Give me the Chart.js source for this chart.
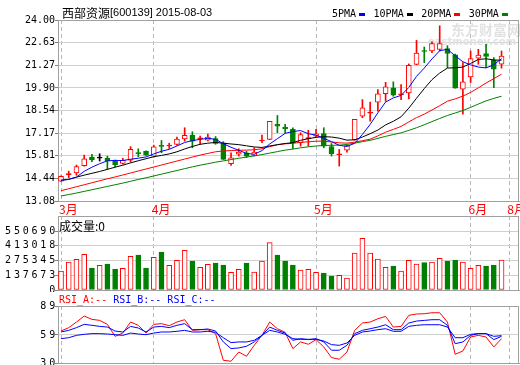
<!DOCTYPE html>
<html><head><meta charset="utf-8">
<script src="https://cdn.jsdelivr.net/npm/chart.js@4.4.1/dist/chart.umd.min.js"></script>
<style>
html,body{margin:0;padding:0;background:#fff;}
#wrap{position:relative;width:520px;height:365px;overflow:hidden;background:#fff;}
canvas{position:absolute;left:0;}
</style></head><body>
<div id="wrap">
<canvas id="cMain" width="520" height="216" style="top:0px"></canvas>
<canvas id="cVol" width="520" height="76" style="top:216px"></canvas>
<canvas id="cRsi" width="520" height="75" style="top:290px"></canvas>
</div>
<script>
// ---------- data ----------
const titleName = '西部资源';
const titleCode = '[600139] 2015-08-03';
const maNames = ['5PMA','10PMA','20PMA','30PMA'];
const volumeTitle = '成交量:0';
const rsiNames = ['RSI_A:--','RSI_B:--','RSI_C:--'];
const monthTickIndex = [0, 12, 33, 53, 58];
const monthLabels = ['3月','4月','5月','6月','8月'];
const priceTicks = [13.08, 14.44, 15.81, 17.17, 18.54, 19.90, 21.27, 22.63, 24.00];
const volumeTicks = [0, 137673, 275345, 413018, 550690];
const rsiTicks = [30, 59, 89];

const opens  = [14.28,14.67,14.77,15.21,15.73,15.67,15.67,15.47,15.35,15.55,15.96,16.07,15.79,16.40,16.40,16.49,16.83,17.05,16.83,16.75,16.84,16.58,15.33,15.90,15.99,15.83,16.70,16.80,17.70,17.54,17.40,16.60,16.84,16.99,17.15,16.37,15.87,16.15,16.78,18.20,18.38,19.04,19.55,19.91,19.48,19.60,21.32,22.14,22.13,22.22,22.27,21.90,19.82,20.57,21.69,21.97,21.57,21.33];
const highs  = [14.60,14.88,15.25,15.85,15.89,15.93,15.79,15.55,15.65,16.36,16.23,16.10,16.45,16.73,16.57,16.93,17.50,17.26,16.99,17.11,16.97,16.66,15.99,16.23,16.08,16.29,17.05,17.88,18.24,17.70,17.50,17.20,17.35,17.40,17.50,16.55,16.19,16.45,18.00,19.20,19.05,19.80,20.24,20.27,20.10,21.35,22.77,22.37,22.69,23.65,22.45,21.95,21.43,22.13,22.23,22.53,21.73,22.13];
const lows   = [14.26,14.49,14.63,15.18,15.45,15.49,14.99,15.13,15.30,15.43,15.75,15.83,15.73,15.99,16.25,16.45,16.69,16.29,16.49,16.70,16.50,15.59,15.23,15.79,15.70,15.80,16.60,16.78,17.20,17.20,16.23,16.39,16.39,16.95,16.29,15.79,15.19,16.03,16.75,18.10,17.90,18.50,19.10,19.40,19.20,19.24,21.30,21.43,22.03,22.13,21.13,19.88,18.32,20.23,21.33,21.13,19.92,21.09];
const closes = [14.57,14.70,15.15,15.63,15.57,15.67,15.51,15.25,15.53,16.19,15.94,15.85,16.35,16.38,16.42,16.81,17.04,16.69,16.85,16.93,16.55,15.59,15.69,16.03,15.79,16.03,16.72,17.88,17.60,17.45,16.60,17.09,16.88,17.14,16.39,15.93,15.91,16.43,18.00,18.70,18.44,19.55,19.97,19.46,19.52,21.27,22.01,22.10,22.57,22.57,21.99,19.88,20.27,21.67,21.89,21.81,21.03,21.83];

const ma5  = [14.33,14.38,14.52,14.87,15.12,15.33,15.50,15.53,15.52,15.60,15.66,15.74,15.92,16.08,16.20,16.40,16.61,16.72,16.80,16.86,16.80,16.54,16.32,16.14,15.95,15.90,16.12,16.52,16.84,17.16,17.27,17.33,17.14,17.05,16.86,16.66,16.44,16.37,16.56,17.10,17.70,18.40,19.05,19.30,19.45,19.93,20.60,21.10,21.65,22.15,22.23,21.84,21.48,21.29,21.16,21.11,21.30,21.67];
const ma10 = [14.33,14.39,14.52,14.64,14.75,14.86,14.99,15.12,15.24,15.38,15.51,15.63,15.75,15.83,15.92,16.05,16.22,16.37,16.50,16.57,16.61,16.57,16.52,16.48,16.41,16.34,16.31,16.40,16.48,16.55,16.60,16.74,16.84,16.92,16.96,16.94,16.87,16.75,16.77,16.94,17.14,17.36,17.67,17.89,18.16,18.68,19.28,19.86,20.40,20.80,21.10,21.12,21.16,21.38,21.62,21.66,21.59,21.57];
const ma20 = [13.70,13.82,13.94,14.06,14.18,14.30,14.42,14.53,14.65,14.77,14.89,15.01,15.13,15.25,15.37,15.49,15.61,15.73,15.85,15.95,16.05,16.10,16.12,16.14,16.15,16.17,16.23,16.36,16.47,16.53,16.56,16.62,16.65,16.69,16.69,16.64,16.59,16.57,16.63,16.72,16.81,17.01,17.23,17.40,17.58,17.85,18.11,18.32,18.57,18.83,19.10,19.24,19.41,19.63,19.91,20.20,20.46,20.73];
const ma30 = [13.38,13.47,13.56,13.66,13.76,13.86,13.96,14.06,14.16,14.27,14.38,14.48,14.59,14.70,14.81,14.92,15.03,15.14,15.24,15.33,15.42,15.50,15.58,15.66,15.73,15.80,15.88,15.97,16.06,16.15,16.21,16.29,16.35,16.40,16.43,16.44,16.45,16.49,16.57,16.66,16.74,16.86,16.98,17.09,17.19,17.34,17.50,17.68,17.87,18.06,18.24,18.39,18.54,18.73,18.93,19.12,19.27,19.40];

const volumes = [177300,261300,286500,333200,205300,230500,242700,196000,202500,314500,326700,205300,305200,354700,230500,277200,370500,270700,211900,239900,252000,233300,165200,193200,252000,168000,270700,441500,326700,270700,233300,186700,193200,165200,158700,130700,137200,112000,345300,482500,345300,289300,211900,224000,177300,277200,242700,254800,261300,295900,270700,280000,261300,202500,230500,224000,233300,280000];

const rsiA = [63.1,66.6,72.4,78.6,75.2,74.1,70.0,57.6,61.0,72.4,69.0,61.0,70.0,70.7,68.6,72.4,74.8,63.8,64.5,64.5,60.4,32.8,31.8,41.4,37.0,48.3,58.6,72.4,65.5,61.7,44.9,51.8,49.4,54.2,46.6,35.6,33.9,41.4,63.8,71.4,72.4,75.8,78.2,67.2,67.9,79.3,80.7,81.0,82.0,82.0,72.4,39.0,42.5,56.9,58.6,56.9,46.6,55.2];
const rsiB = [62.1,63.8,66.6,70.0,69.0,67.9,67.2,63.1,62.1,67.9,66.2,62.1,67.2,67.9,66.6,69.0,70.7,64.5,64.5,65.2,63.1,51.8,44.9,45.6,47.3,51.8,58.6,67.2,63.8,61.0,53.5,55.2,54.2,55.2,51.8,43.2,43.2,48.3,60.4,63.8,65.5,67.2,69.6,64.5,64.5,71.4,73.4,74.1,74.8,74.8,69.0,50.0,51.8,58.6,60.4,60.4,54.2,57.6];
const rsiC = [55.2,56.2,58.6,59.7,60.4,60.4,60.0,59.3,58.6,61.0,60.0,59.3,61.0,62.1,62.1,62.8,63.8,62.1,62.1,62.8,61.7,56.2,51.1,51.8,51.8,53.5,58.6,63.8,62.1,59.7,55.2,54.5,54.5,54.5,52.8,49.0,48.3,50.7,58.6,62.1,63.1,64.5,65.5,62.8,62.8,67.9,69.0,69.6,69.6,69.6,67.2,56.2,56.2,59.7,60.4,60.4,57.6,58.3];

// ---------- style ----------
const RED = '#ff0000', GREEN = '#008000', BLUE = '#0000ff', BLACK = '#000000';
const maColors = [BLUE, BLACK, RED, GREEN];
const FRAME = '#a0a0a0', GRID = '#d0d0d0', DASH = '#b8b8b8', TICK = '#808080';
const MONO = "'DejaVu Sans Mono'";
const CJK = "'Noto Sans CJK SC'";
const X_MIN = -0.39, X_MAX = 59.26;

Chart.defaults.font.family = 'DejaVu Sans Mono';
Chart.defaults.animation = false;

const idx = closes.map((_, i) => i);
const candleColor = i => closes[i] > opens[i] ? RED : (closes[i] < opens[i] ? GREEN : BLACK);
const bodyFill = i => {
  const c = candleColor(i);
  if (Math.abs(closes[i] - opens[i]) < 0.09) return c;
  return c === RED ? '#ffffff' : c;
};
const volColor = i => closes[i] >= opens[i] ? RED : GREEN;

function xScale(showLabels, h) {
  return {
    type: 'linear', min: X_MIN, max: X_MAX, offset: false,
    afterBuildTicks: s => { s.ticks = monthTickIndex.map(v => ({ value: v })); },
    afterFit: s => { s.height = h; s.paddingLeft = 0; s.paddingRight = 0; },
    grid: { color: DASH, lineWidth: 1, drawTicks: false, offset: false },
    border: { display: true, color: FRAME, dash: [4, 3] },
    ticks: {
      display: showLabels, autoSkip: false, maxRotation: 0, minRotation: 0,
      color: RED, font: { family: CJK, size: 12 }, padding: 1,
      align: 'start', labelOffset: -2,
      callback: (v, i) => monthLabels[i]
    }
  };
}
function yScale(min, max, ticks, fmt, pad) {
  return {
    type: 'linear', position: 'left', min: min, max: max, beginAtZero: false,
    afterBuildTicks: s => { s.ticks = ticks.map(v => ({ value: v })); },
    afterFit: s => { s.width = 58; s.paddingTop = 0; s.paddingBottom = 0; },
    grid: { color: GRID, tickColor: TICK, tickLength: 3, drawTicks: true },
    border: { display: true, color: FRAME },
    ticks: { color: '#000', font: { family: 'DejaVu Sans Mono', size: 10 }, padding: pad, autoSkip: false, callback: fmt }
  };
}
const framePlugin = {
  id: 'frame',
  afterDraw(chart) {
    const { ctx, chartArea: a } = chart;
    ctx.save();
    ctx.strokeStyle = FRAME; ctx.lineWidth = 1;
    ctx.beginPath();
    const t = Math.round(a.top) + 0.5, r = Math.round(a.right) - 0.5;
    ctx.moveTo(a.left, t); ctx.lineTo(a.right, t);
    ctx.moveTo(r, a.top); ctx.lineTo(r, a.bottom);
    ctx.stroke();
    ctx.restore();
  }
};
// wide-spaced digits used by the volume and RSI axes
const wideDigits = {
  id: 'wideDigits',
  beforeDraw(chart) { chart.ctx.letterSpacing = '2.8px'; }
};
const baseOpts = {
  responsive: false, animation: false, devicePixelRatio: 1, events: [],
  plugins: { legend: { display: false }, tooltip: { enabled: false }, title: { display: false } }
};

// ---------- main price chart ----------
const mainText = {
  id: 'mainText',
  beforeDatasetsDraw(chart) {
    const ctx = chart.ctx;
    ctx.save();
    ctx.fillStyle = '#e2e2e2';
    ctx.textBaseline = 'middle'; ctx.textAlign = 'left';
    ctx.font = "bold 14px " + CJK;
    ctx.fillText('东方财富网', 451, 30);
    ctx.font = "bold 10px 'DejaVu Sans'";
    ctx.fillText('eastmoney.com', 428, 42);
    ctx.restore();
  },
  afterDraw(chart) {
    const ctx = chart.ctx;
    ctx.save();
    ctx.textBaseline = 'middle'; ctx.textAlign = 'left';
    ctx.fillStyle = '#000';
    ctx.font = "12px " + CJK;
    ctx.fillText(titleName, 62, 13);
    const w = ctx.measureText(titleName).width;
    ctx.font = "11px 'Liberation Sans'";
    ctx.fillText(titleCode, 62 + w, 13);
    ctx.font = "10px " + MONO;
    let x = 332;
    maNames.forEach((n, k) => {
      ctx.fillStyle = '#000';
      ctx.fillText(n, x, 14);
      const mx = x + ctx.measureText(n).width + 3;
      ctx.fillStyle = maColors[k];
      ctx.fillRect(Math.round(mx), 13, 6, 3);
      x = mx + 6 + 8.5;
    });
    ctx.restore();
  }
};
const lineDs = (arr, color) => ({
  type: 'line', data: idx.map(i => ({ x: i, y: arr[i] })), borderColor: color,
  borderWidth: 1, pointRadius: 0, pointHoverRadius: 0, tension: 0, fill: false, order: 0
});
new Chart(document.getElementById('cMain'), {
  type: 'bar',
  data: {
    datasets: [
      lineDs(ma5, BLUE), lineDs(ma10, BLACK), lineDs(ma20, RED), lineDs(ma30, GREEN),
      { type: 'bar', data: idx.map(i => ({ x: i, y: [opens[i], closes[i]] })),
        backgroundColor: idx.map(bodyFill), borderColor: idx.map(candleColor),
        borderWidth: 1, borderSkipped: false, barThickness: 5, grouped: false, minBarLength: 1, order: 1 },
      { type: 'bar', data: idx.map(i => ({ x: i, y: [lows[i], highs[i]] })),
        backgroundColor: idx.map(candleColor), borderWidth: 0, barThickness: 1, grouped: false, order: 2 }
    ]
  },
  options: Object.assign({}, baseOpts, {
    layout: { autoPadding: false, padding: { top: 20, right: 1, left: 0, bottom: 0 } },
    scales: {
      x: xScale(true, 15),
      y: yScale(13.08, 24.00, priceTicks, v => Number(v).toFixed(2), 0)
    }
  }),
  plugins: [framePlugin, mainText]
});

// ---------- volume chart ----------
const VOL_MAX = 550690 * 74 / 59;
const volText = {
  id: 'volText',
  afterDraw(chart) {
    const ctx = chart.ctx;
    ctx.save();
    ctx.letterSpacing = '0px';
    ctx.textBaseline = 'middle'; ctx.textAlign = 'left'; ctx.fillStyle = '#000';
    ctx.font = "12px " + CJK;
    ctx.fillText(volumeTitle, 59, 10);
    ctx.restore();
  }
};
new Chart(document.getElementById('cVol'), {
  type: 'bar',
  data: {
    datasets: [{
      data: idx.map(i => ({ x: i, y: volumes[i] })),
      backgroundColor: idx.map(i => volColor(i) === RED ? '#ffffff' : GREEN),
      borderColor: idx.map(volColor), borderWidth: 1, borderSkipped: false,
      barThickness: 5, grouped: false
    }]
  },
  options: Object.assign({}, baseOpts, {
    layout: { autoPadding: false, padding: { top: 0, right: 1, left: 0, bottom: 0 } },
    scales: {
      x: xScale(false, 2),
      y: yScale(0, VOL_MAX, volumeTicks, v => String(v), -3)
    }
  }),
  plugins: [wideDigits, framePlugin, volText]
});

// ---------- RSI chart ----------
const rsiColors = [RED, BLUE, BLUE];
const rsiText = {
  id: 'rsiText',
  afterDraw(chart) {
    const ctx = chart.ctx;
    ctx.save();
    ctx.letterSpacing = '0px';
    ctx.textBaseline = 'middle'; ctx.textAlign = 'left';
    ctx.font = "10px " + MONO;
    let x = 59;
    rsiNames.forEach((n, k) => {
      ctx.fillStyle = rsiColors[k];
      ctx.fillText(n, x, 10);
      x += ctx.measureText(n + ' ').width;
    });
    ctx.restore();
  }
};
const rsiDs = (arr, color) => ({
  type: 'line', data: idx.map(i => ({ x: i, y: arr[i] })), borderColor: color,
  borderWidth: 1, pointRadius: 0, pointHoverRadius: 0, tension: 0, fill: false
});
new Chart(document.getElementById('cRsi'), {
  type: 'line',
  data: { datasets: [rsiDs(rsiC, BLUE), rsiDs(rsiB, BLUE), rsiDs(rsiA, RED)] },
  options: Object.assign({}, baseOpts, {
    layout: { autoPadding: false, padding: { top: 16, right: 1, left: 0, bottom: 0 } },
    scales: {
      x: xScale(false, 2),
      y: yScale(30, 89, rsiTicks, v => String(v), -3)
    }
  }),
  plugins: [wideDigits, framePlugin, rsiText]
});
</script>
</body></html>
